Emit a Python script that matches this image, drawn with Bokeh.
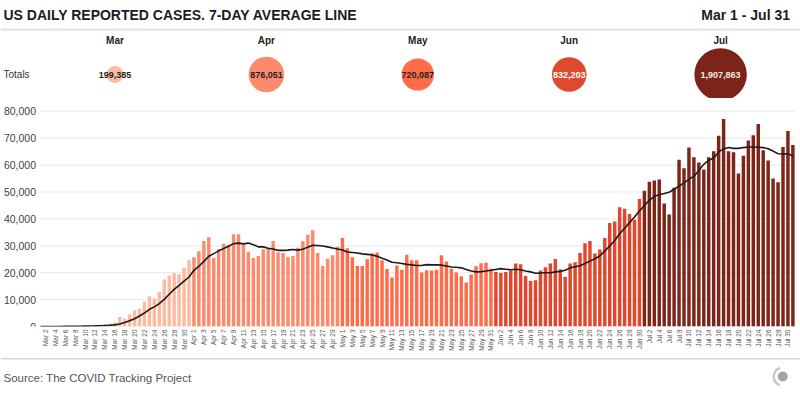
import math
import pandas as pd
from bokeh.plotting import figure
from bokeh.layouts import column
from bokeh.models import Range1d, FixedTicker, ColumnDataSource, NumeralTickFormatter
from bokeh.core.properties import value
from bokeh.embed import file_html
from bokeh.resources import INLINE

# ---------------- data ----------------
months = ["Mar", "Apr", "May", "Jun", "Jul"]
month_totals = [199385, 876051, 720087, 832203, 1907863]
month_total_labels = ["199,385", "876,051", "720,087", "832,203", "1,907,863"]
month_colors = ["#fcbca3", "#fc8b6d", "#fe6c4a", "#df4a2f", "#7c2419"]
bar_colors = ["#fcbba1", "#fc8b6d", "#fe6c4a", "#e0472c", "#7e251a"]
bubble_text_colors = ["#1f1f1f", "#1f1f1f", "#1f1f1f", "#ffffff", "#f4e9e7"]

daily_mar = [10, 20, 30, 50, 70, 100, 130, 150, 200, 300, 400, 500, 700, 900, 1100, 1500,
             3500, 2900, 4500, 6000, 6600, 9200, 11200, 10400, 12800, 17500, 19000, 19800,
             19400, 21800, 24600]
daily_apr = [25700, 28000, 31800, 33200, 25500, 28800, 30800, 30400, 34300, 34300,
             30400, 27800, 25500, 26200, 28700, 29100, 31800, 27600, 27300, 25800,
             26200, 29300, 31700, 34100, 35800, 27300, 22500, 25200, 26500, 29600]
daily_may = [32900, 29100, 25700, 22500, 22500, 25000, 27200, 27500, 24600, 21400,
             18200, 22700, 21100, 26700, 24600, 24600, 20100, 20900, 20800, 21100,
             26500, 24200, 21500, 20100, 18700, 16400, 19300, 22400, 23500, 23700,
             21500]
daily_jun = [20300, 19900, 20300, 20800, 23400, 23100, 18800, 16900, 17200, 20800,
             22000, 23400, 25100, 21300, 18400, 23400, 23900, 27300, 30900, 31800,
             27100, 28600, 32900, 38500, 39000, 44300, 43800, 41800, 39700, 47400]
daily_jul = [50500, 53800, 54300, 54600, 45700, 41600, 51600, 62000, 58800, 66500,
             62900, 61000, 58400, 62900, 65100, 70900, 77100, 65100, 64800, 56900,
             63500, 69100, 71100, 75300, 65500, 61700, 55000, 53600, 66700, 72700,
             67500]

avg_mar = [0, 5, 10, 15, 25, 40, 55, 75, 95, 130, 170, 220, 290, 370, 480, 600,
           950, 1450, 2100, 2900, 3900, 5000, 6400, 7300, 8500, 10100, 12000, 13800,
           15300, 16900, 18400]
avg_apr = [20900, 22400, 24200, 26100, 27100, 28100, 29000, 29800, 30800, 31000,
           30700, 31000, 30400, 29600, 29600, 29100, 28800, 28300, 28300, 28400,
           28600, 28400, 28700, 29500, 30200, 30100, 29900, 29600, 29200, 28800]
avg_may = [28400, 27700, 27500, 27300, 27000, 26800, 26600, 26100, 25400, 24700,
           23900, 23700, 23400, 23100, 22900, 22700, 22700, 23000, 22900, 22900,
           22800, 22500, 22100, 22000, 21800, 21200, 20600, 20300, 20400, 20600,
           20900]
avg_jun = [21200, 21500, 21300, 21100, 21300, 21100, 20600, 20300, 19800, 19900,
           20000, 20000, 20300, 20500, 20900, 21800, 22200, 22600, 23400, 24300,
           25200, 26200, 28100, 29900, 32000, 34500, 36500, 38600, 40700, 42900]
avg_jul = [45000, 46900, 48400, 49000, 49400, 49900, 51000, 52200, 53400, 54700,
           55900, 58000, 60300, 61800, 62600, 64900, 66000, 66500, 66200, 66200,
           66500, 66700, 66700, 66600, 66500, 66100, 65200, 64200, 64100, 64200,
           63400]

y_ticks = [0, 10000, 20000, 30000, 40000, 50000, 60000, 70000, 80000]

title_text = "US DAILY REPORTED CASES. 7-DAY AVERAGE LINE"
period_text = "Mar 1 - Jul 31"
totals_text = "Totals"
source_text = "Source: The COVID Tracking Project"

# ---------------- derived ----------------
dates = pd.date_range("2020-03-01", "2020-07-31", freq="D")
daily = daily_mar + daily_apr + daily_may + daily_jun + daily_jul
avg7 = avg_mar + avg_apr + avg_may + avg_jun + avg_jul
assert len(daily) == len(dates) == len(avg7)
day_idx = list(range(len(dates)))
colors = [bar_colors[d.month - 3] for d in dates]
tick_days = [i for i in day_idx if i % 2 == 1]
tick_labels = {i: f"{dates[i].strftime('%b')} {dates[i].day}" for i in tick_days}

FONT = value("Liberation Sans")
W = 800


def blank(height, yr):
    f = figure(width=W, height=height, x_range=Range1d(0, W), y_range=Range1d(*yr),
               x_axis_location=None, y_axis_location=None, min_border=0,
               min_border_left=0, min_border_right=0, min_border_top=0, min_border_bottom=0,
               output_backend="svg", toolbar_location=None)
    f.grid.visible = False
    f.outline_line_color = None
    return f


# ---------------- header ----------------
hp = blank(98, (98, 0))
first_c, step = 114.5, 151.4
hp.extra_x_ranges = {"m": Range1d((0 - first_c) / step, (W - first_c) / step)}

hp.text(x=[3], y=[14.3], text=[title_text], text_font=FONT, text_font_size="14px",
        text_font_style="bold", text_color="#1c1c1c", text_align="left", text_baseline="middle")
hp.text(x=[789.5], y=[14.3], text=[period_text], text_font=FONT, text_font_size="14px",
        text_font_style="bold", text_color="#1c1c1c", text_align="right", text_baseline="middle")
hp.segment(x0=[0], x1=[W], y0=[29.2], y1=[29.2], line_color="#e4e4e4", line_width=2.3)
hp.text(x=[3], y=[74], text=[totals_text], text_font=FONT, text_font_size="10px",
        text_color="#333333", text_align="left", text_baseline="middle")

bsrc = ColumnDataSource(dict(
    m=list(range(len(months))), month=months, label=month_total_labels,
    size=[2 * 0.019 * math.sqrt(v) for v in month_totals],
    color=month_colors, tcolor=bubble_text_colors,
    ym=[40] * len(months), yb=[74] * len(months)))
hp.scatter(x="m", y="yb", size="size", fill_color="color", line_color=None,
           source=bsrc, x_range_name="m")
hp.text(x="m", y="ym", text="month", source=bsrc, x_range_name="m", text_font=FONT,
        text_font_size="10px", text_font_style="bold", text_color="#222222",
        text_align="center", text_baseline="middle")
hp.text(x="m", y="yb", text="label", source=bsrc, x_range_name="m", text_font=FONT,
        text_font_size="9px", text_font_style="bold", text_color="tcolor",
        text_align="center", text_baseline="middle")

# ---------------- main chart ----------------
X0, PX_PER_DAY = 40.0, 4.95        # layout: pixel of first day and day spacing
p = figure(width=W, height=258,
           x_range=Range1d(-X0 / PX_PER_DAY, (W - X0) / PX_PER_DAY),
           y_range=Range1d(0, 84000),
           min_border_left=0, min_border_right=0, min_border_top=2, min_border_bottom=30,
           output_backend="svg", toolbar_location=None)
p.outline_line_color = None
p.xgrid.visible = False
p.ygrid.visible = False

n = len(y_ticks)
p.segment(x0=[-0.1] * n, x1=[152.5] * n, y0=y_ticks, y1=y_ticks,
          line_color="#ececec", line_width=1.2)

src = ColumnDataSource(dict(x=day_idx, top=daily, avg=avg7, color=colors))
p.vbar(x="x", top="top", width=0.7, fill_color="color", line_color=None, source=src)
p.line(x="x", y="avg", line_color="#1b1b1b", line_width=1.6, source=src)

p.yaxis.fixed_location = -0.1
p.yaxis.ticker = FixedTicker(ticks=y_ticks)
p.yaxis.formatter = NumeralTickFormatter(format="0,0")
p.yaxis.axis_line_color = None
p.yaxis.major_tick_line_color = None
p.yaxis.minor_tick_line_color = None
p.yaxis.major_tick_out = 0
p.yaxis.major_tick_in = 0
p.yaxis.minor_tick_out = 0
p.yaxis.minor_tick_in = 0
p.yaxis.major_label_standoff = 4
p.yaxis.major_label_text_font = "Liberation Sans"
p.yaxis.major_label_text_font_size = "10.5px"
p.yaxis.major_label_text_color = "#444444"

p.xaxis.ticker = FixedTicker(ticks=tick_days)
p.xaxis.major_label_overrides = tick_labels
p.xaxis.major_label_orientation = math.pi / 2
p.xaxis.axis_line_color = None
p.xaxis.major_tick_line_color = None
p.xaxis.minor_tick_line_color = None
p.xaxis.major_tick_out = 0
p.xaxis.major_tick_in = 0
p.xaxis.minor_tick_out = 0
p.xaxis.minor_tick_in = 0
p.xaxis.major_label_standoff = 3
p.xaxis.major_label_text_font = "Liberation Sans"
p.xaxis.major_label_text_font_size = "6.5px"
p.xaxis.major_label_text_color = "#555555"

# ---------------- footer ----------------
fp = blank(40, (396, 356))
fp.segment(x0=[0], x1=[W], y0=[358.3], y1=[358.3], line_color="#d8d8d8", line_width=1.5)
fp.text(x=[3], y=[377], text=[source_text], text_font=FONT, text_font_size="11.5px",
        text_color="#555555", text_align="left", text_baseline="middle")
fp.arc(x=[782.3], y=[376], radius=9, radius_units="screen",
       start_angle=math.radians(108), end_angle=math.radians(252),
       line_color="#c9c9c9", line_width=2.5)
fp.scatter(x=[782.3], y=[376], size=10, fill_color="#a2a2a2", line_color=None)

layout = column(hp, p, fp, spacing=0)
open("out.html", "w").write(file_html(layout, INLINE))
